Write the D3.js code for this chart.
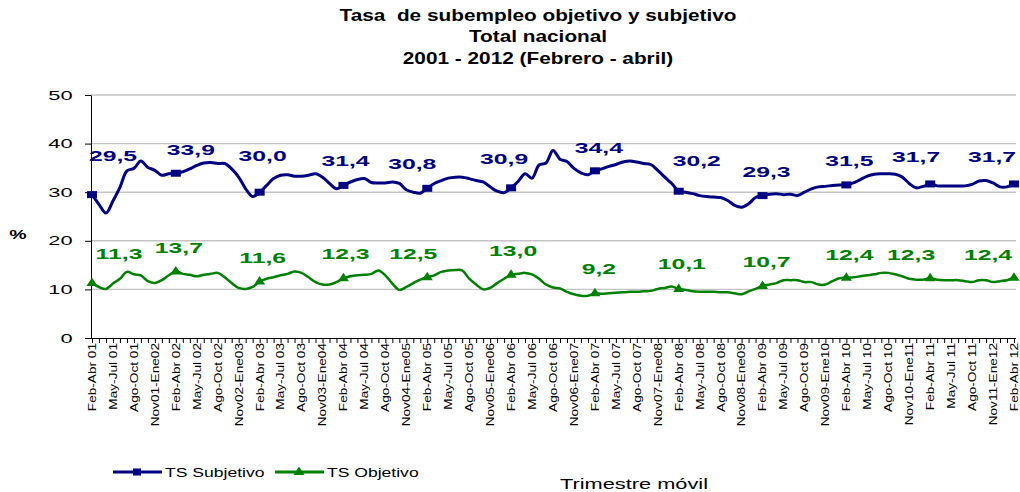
<!DOCTYPE html>
<html>
<head>
<meta charset="utf-8">
<script src="https://cdn.jsdelivr.net/npm/d3@7"></script>
<style>
  body { margin: 0; background: #fff; }
  svg { display: block; font-family: 'Liberation Sans', Arial, sans-serif; }
</style>
</head>
<body>
<svg width="1020" height="492"></svg>
<script>
// x-axis labels, one every three moving quarters
const tickLabels = [
  'Feb-Abr 01', 'May-Jul 01', 'Ago-Oct 01', 'Nov01-Ene02',
  'Feb-Abr 02', 'May-Jul 02', 'Ago-Oct 02', 'Nov02-Ene03',
  'Feb-Abr 03', 'May-Jul 03', 'Ago-Oct 03', 'Nov03-Ene04',
  'Feb-Abr 04', 'May-Jul 04', 'Ago-Oct 04', 'Nov04-Ene05',
  'Feb-Abr 05', 'May-Jul 05', 'Ago-Oct 05', 'Nov05-Ene06',
  'Feb-Abr 06', 'May-Jul 06', 'Ago-Oct 06', 'Nov06-Ene07',
  'Feb-Abr 07', 'May-Jul 07', 'Ago-Oct 07', 'Nov07-Ene08',
  'Feb-Abr 08', 'May-Jul 08', 'Ago-Oct 08', 'Nov08-Ene09',
  'Feb-Abr 09', 'May-Jul 09', 'Ago-Oct 09', 'Nov09-Ene10',
  'Feb-Abr 10', 'May-Jul 10', 'Ago-Oct 10', 'Nov10-Ene11',
  'Feb-Abr 11', 'May-Jul 11', 'Ago-Oct 11', 'Nov11-Ene12',
  'Feb-Abr 12',
]

const seriesNames = ['TS Subjetivo', 'TS Objetivo']

// monthly moving quarter, Feb-Abr 01 .. Feb-Abr 12
const subjetivo = [
  29.5, 27.5, 25.7, 28.2, 31.0, 34.4, 34.9, 36.4, 35.1, 34.5, 33.5, 33.8,
  33.9, 34.2, 34.8, 35.5, 36.0, 36.1, 35.9, 35.9, 34.8, 33.1, 30.7, 29.1,
  30.0, 31.4, 32.8, 33.5, 33.6, 33.3, 33.3, 33.5, 33.8, 33.1, 31.8, 30.7,
  31.4, 32.1, 32.6, 32.8, 32.0, 31.9, 31.9, 32.1, 31.8, 30.5, 30.0, 29.8,
  30.8, 31.8, 32.4, 32.9, 33.1, 33.1, 32.8, 32.4, 32.1, 31.1, 30.2, 29.9,
  30.9, 32.2, 33.8, 32.9, 35.6, 36.0, 38.6, 36.8, 36.3, 34.9, 34.0, 33.6,
  34.4, 34.8, 35.3, 35.7, 36.2, 36.4, 36.2, 35.9, 35.7, 34.5, 33.1, 31.8,
  30.2, 30.0, 29.7, 29.3, 29.1, 29.0, 28.9, 28.3, 27.3, 26.9, 27.6, 28.9,
  29.3, 29.6, 29.7, 29.5, 29.6, 29.3, 30.0, 30.7, 31.1, 31.2, 31.4, 31.5,
  31.5, 31.9, 32.6, 33.3, 33.7, 33.8, 33.8, 33.7, 33.1, 31.8, 30.9, 31.2,
  31.7, 31.3, 31.3, 31.3, 31.3, 31.3, 31.6, 32.3, 32.4, 31.9, 31.1, 31.1,
  31.7,
]

const objetivo = [
  11.3, 10.5, 10.1, 11.2, 12.2, 13.6, 13.1, 12.9, 11.7, 11.3, 11.9, 12.9,
  13.7, 13.2, 13.0, 12.7, 13.0, 13.2, 13.4, 12.5, 11.3, 10.3, 10.1, 10.5,
  11.6, 12.2, 12.5, 12.9, 13.2, 13.7, 13.4, 12.5, 11.5, 11.0, 11.0, 11.5,
  12.3, 12.7, 12.9, 13.0, 13.2, 13.9, 12.9, 11.2, 9.9, 10.5, 11.3, 12.0,
  12.5, 12.9, 13.6, 13.9, 14.0, 13.9, 12.2, 11.0, 10.0, 10.3, 11.3, 12.2,
  13.0, 13.2, 13.4, 13.1, 12.2, 11.0, 10.4, 10.2, 9.5, 9.0, 8.7, 8.7,
  9.2, 9.1, 9.2, 9.3, 9.4, 9.5, 9.5, 9.6, 9.7, 10.1, 10.3, 10.6,
  10.1, 9.9, 9.6, 9.5, 9.5, 9.5, 9.4, 9.4, 9.2, 9.0, 9.6, 10.1,
  10.7, 11.0, 11.3, 11.9, 11.9, 11.9, 11.5, 11.5, 11.0, 11.0, 11.7, 12.3,
  12.4, 12.5, 12.7, 12.9, 13.1, 13.4, 13.4, 13.1, 12.7, 12.2, 12.0, 12.0,
  12.3, 12.0, 11.9, 11.9, 11.9, 11.7, 11.5, 11.9, 11.9, 11.5, 11.7, 11.9,
  12.4,
]

// label placement relative to each Feb-Abr marker (layout only)
const subjLabelOffset = [[21, -34], [15, -18], [3, -31], [2, -19], [-15, -19], [-7, -24],
  [4, -18], [18, -25], [4, -19], [3, -19], [-14, -22], [-22, -22]]
const objLabelOffset = [[27, -24], [3, -18], [3, -19], [2, -19], [-14, -18], [2, -19],
  [4, -19], [3, -20], [4, -19], [3, -18], [-19, -18], [-26, -18]]

const blue = '#000080'
const green = '#008000'
const svg = d3.select('svg')

const x = d3.scalePoint(d3.range(subjetivo.length), [92, 1014])
const y = d3.scaleLinear([0, 50], [338, 95])
const fmt = v => d3.format('.1f')(v).replace('.', ',')

// Title
const titleLines = ['Tasa  de subempleo objetivo y subjetivo', 'Total nacional', '2001 - 2012 (Febrero - abril)']
svg.append('g')
  .selectAll('text')
  .data(titleLines)
  .join('text')
  .attr('transform', (d, i) => `translate(538,${ 21 + i * 21.3 }) scale(1.3,1)`)
  .attr('text-anchor', 'middle')
  .attr('font-size', 16)
  .attr('font-weight', 'bold')
  .style('white-space', 'pre')
  .text(d => d)

// Grid
svg.append('g')
  .selectAll('line')
  .data(y.ticks(5).filter(d => d > 0))
  .join('line')
  .attr('x1', 91)
  .attr('x2', 1016)
  .attr('y1', d => y(d))
  .attr('y2', d => y(d))
  .attr('stroke', '#c4c4c4')
  .attr('stroke-width', 1.4)

// Y axis
const yAxisEl = svg.append('g')
  .attr('transform', 'translate(91,0)')
  .call(d3.axisLeft(y).ticks(5).tickSize(6).tickSizeOuter(0))
yAxisEl.selectAll('.tick text')
  .attr('x', -10.5)
  .attr('transform', 'scale(1.75,1)')
  .attr('font-size', 12.5)
  .attr('font-family', null)
  .attr('fill', '#000')

svg.append('text')
  .attr('transform', 'translate(18,239) scale(1.5,1)')
  .attr('text-anchor', 'middle')
  .attr('font-size', 13)
  .attr('font-weight', 'bold')
  .text('%')

// X axis
const xAxisEl = svg.append('g')
  .attr('transform', 'translate(0,338)')
  .call(d3.axisBottom(x)
    .tickSize(5)
    .tickSizeOuter(0)
    .tickFormat(i => i % 3 === 0 ? tickLabels[i / 3] : ''))
xAxisEl.select('.domain').attr('d', 'M91,0.5H1016')
xAxisEl.selectAll('.tick text')
  .attr('x', 0)
  .attr('y', 0)
  .attr('dy', '0.32em')
  .attr('transform', 'translate(0,5) rotate(-90) scale(1.3,1)')
  .attr('text-anchor', 'end')
  .attr('font-size', 10.5)
  .attr('font-family', null)
  .attr('fill', '#000')
svg.selectAll('.domain, .tick line').attr('stroke', '#000')

// Lines
const line = d3.line()
  .x((d, i) => x(i))
  .y(d => y(d))
  .curve(d3.curveCatmullRom.alpha(0.5))

svg.append('path')
  .datum(objetivo)
  .attr('d', line)
  .attr('fill', 'none')
  .attr('stroke', green)
  .attr('stroke-width', 2.5)
  .attr('stroke-linejoin', 'round')

svg.append('path')
  .datum(subjetivo)
  .attr('d', line)
  .attr('fill', 'none')
  .attr('stroke', blue)
  .attr('stroke-width', 3)
  .attr('stroke-linejoin', 'round')

// Markers on each Feb-Abr
const marked = d3.range(0, subjetivo.length, 12)
const tri = 'M-5.5,4L0,-4.5L5.5,4Z'

svg.append('g')
  .selectAll('rect')
  .data(marked)
  .join('rect')
  .attr('x', i => x(i) - 5)
  .attr('y', i => y(subjetivo[i]) - 3.5)
  .attr('width', 10)
  .attr('height', 7)
  .attr('fill', blue)

svg.append('g')
  .selectAll('path')
  .data(marked)
  .join('path')
  .attr('d', tri)
  .attr('transform', i => `translate(${ x(i) },${ y(objetivo[i]) - 1 })`)
  .attr('fill', green)

// Data labels
function labels (values, offsets, color) {
  svg.append('g')
    .selectAll('text')
    .data(marked)
    .join('text')
    .attr('transform', (i, k) => `translate(${ x(i) + offsets[k][0] },${ y(values[i]) + offsets[k][1] }) scale(1.65,1)`)
    .attr('text-anchor', 'middle')
    .attr('font-size', 15)
    .attr('font-weight', 'bold')
    .attr('fill', color)
    .text(i => fmt(values[i]))
}
labels(subjetivo, subjLabelOffset, blue)
labels(objetivo, objLabelOffset, green)

// Legend
const legend = svg.append('g')
  .selectAll('g')
  .data(seriesNames)
  .join('g')
  .attr('transform', (d, i) => `translate(${ [113, 275][i] },472)`)
legend.append('line')
  .attr('x1', 0)
  .attr('x2', 49)
  .attr('stroke', (d, i) => [blue, green][i])
  .attr('stroke-width', 3)
legend.filter((d, i) => i === 0).append('rect')
  .attr('x', 20)
  .attr('y', -3.5)
  .attr('width', 8)
  .attr('height', 7)
  .attr('fill', blue)
legend.filter((d, i) => i === 1).append('path')
  .attr('d', tri)
  .attr('transform', 'translate(24,-1)')
  .attr('fill', green)
legend.append('text')
  .attr('transform', 'translate(52,4.7) scale(1.35,1)')
  .attr('font-size', 13)
  .text(d => d)

svg.append('text')
  .attr('x', 560)
  .attr('y', 489)
  .attr('font-size', 14)
  .attr('textLength', 148)
  .attr('lengthAdjust', 'spacingAndGlyphs')
  .text('Trimestre móvil')
</script>
</body>
</html>
